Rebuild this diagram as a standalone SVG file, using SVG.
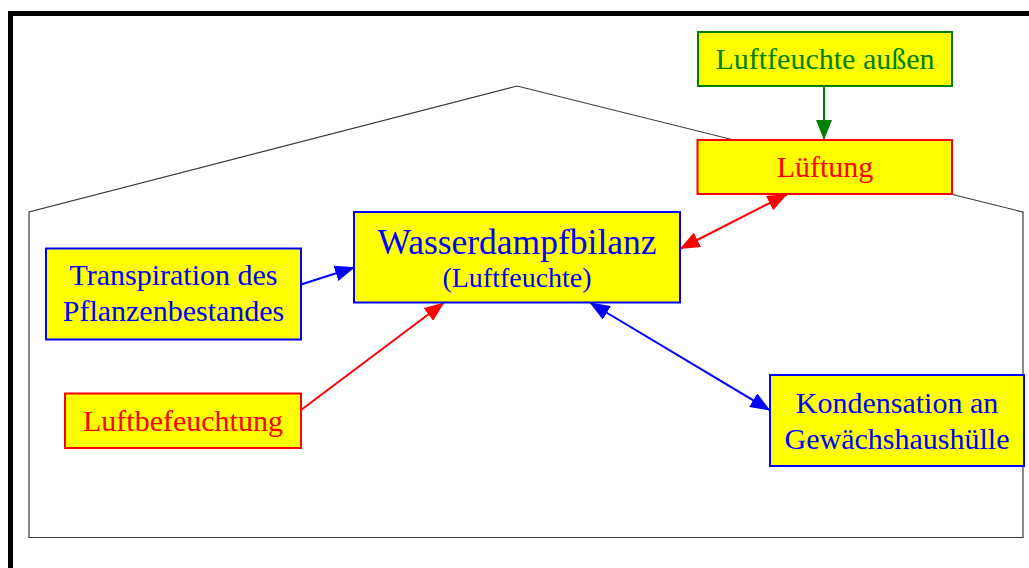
<svg xmlns="http://www.w3.org/2000/svg" width="1029" height="568" viewBox="0 0 1029 568">
  <style>
    text { font-family: "Liberation Serif", "Times New Roman", serif; text-anchor: middle; }
    .box { fill: #ffff00; stroke-width: 2; }
    .blue { fill: #0000ff; }
    .red { fill: #ff0000; }
    .green { fill: #008000; }
    .sb { stroke: #0000ff; }
    .sr { stroke: #ff0000; }
    .sg { stroke: #008000; }
    .edge { fill: none; stroke-width: 2; }
  </style>
  <defs>
    <marker id="arrow-blue" viewBox="0 0 20 16" refX="19" refY="8" markerWidth="20" markerHeight="16" markerUnits="userSpaceOnUse" orient="auto-start-reverse">
      <path d="M0,0 L20,8 L0,16 z" fill="#0000ff"/>
    </marker>
    <marker id="arrow-red" viewBox="0 0 20 16" refX="19" refY="8" markerWidth="20" markerHeight="16" markerUnits="userSpaceOnUse" orient="auto-start-reverse">
      <path d="M0,0 L20,8 L0,16 z" fill="#ff0000"/>
    </marker>
    <marker id="arrow-green" viewBox="0 0 20 16" refX="19" refY="8" markerWidth="20" markerHeight="16" markerUnits="userSpaceOnUse" orient="auto">
      <path d="M0,0 L20,8 L0,16 z" fill="#008000"/>
    </marker>
  </defs>

  <rect width="1029" height="568" fill="#ffffff"/>
  <!-- outer frame -->
  <rect x="10.5" y="13.5" width="1100" height="600" fill="none" stroke="#000000" stroke-width="5"/>

  <!-- greenhouse outline -->
  <path d="M29,537.5 L29,212 L517,86 L1023,212 L1023,537.5 Z" fill="none" stroke="#3a3a3a" stroke-width="1.2"/>

  <g id="connectors">
    <line class="edge sg" x1="824" y1="86" x2="824" y2="139" marker-end="url(#arrow-green)"/>
    <line class="edge sb" x1="301" y1="284.5" x2="354" y2="267.5" marker-end="url(#arrow-blue)"/>
    <line class="edge sr" x1="301" y1="410" x2="443.5" y2="303" marker-end="url(#arrow-red)"/>
    <line class="edge sb" x1="590.5" y1="303" x2="769.5" y2="410" marker-start="url(#arrow-blue)" marker-end="url(#arrow-blue)"/>
    <line class="edge sr" x1="680.5" y1="248.5" x2="786.5" y2="194.5" marker-start="url(#arrow-red)" marker-end="url(#arrow-red)"/>
  </g>

  <g id="luftfeuchte-aussen">
    <rect class="box sg" x="698" y="32" width="254" height="54"/>
    <text class="green" x="825" y="68.5" font-size="30">Luftfeuchte außen</text>
  </g>

  <g id="lueftung">
    <rect class="box sr" x="697.5" y="140" width="254.5" height="54"/>
    <text class="red" x="825" y="176.5" font-size="30">Lüftung</text>
  </g>

  <g id="wasserdampfbilanz">
    <rect class="box sb" x="354" y="212" width="326" height="90.5"/>
    <text class="blue" x="517" y="254" font-size="35.5">Wasserdampfbilanz</text>
    <text class="blue" x="517" y="286.5" font-size="28">(Luftfeuchte)</text>
  </g>

  <g id="transpiration">
    <rect class="box sb" x="46" y="248.5" width="255" height="91"/>
    <text class="blue" x="173.5" y="285" font-size="30">Transpiration des</text>
    <text class="blue" x="173.5" y="321" font-size="30">Pflanzenbestandes</text>
  </g>

  <g id="luftbefeuchtung">
    <rect class="box sr" x="65" y="393.5" width="236" height="54.5"/>
    <text class="red" x="183" y="431" font-size="30">Luftbefeuchtung</text>
  </g>

  <g id="kondensation">
    <rect class="box sb" x="770" y="375" width="254" height="91"/>
    <text class="blue" x="897" y="412.5" font-size="30">Kondensation an</text>
    <text class="blue" x="897" y="448.5" font-size="30">Gewächshaushülle</text>
  </g>
</svg>
